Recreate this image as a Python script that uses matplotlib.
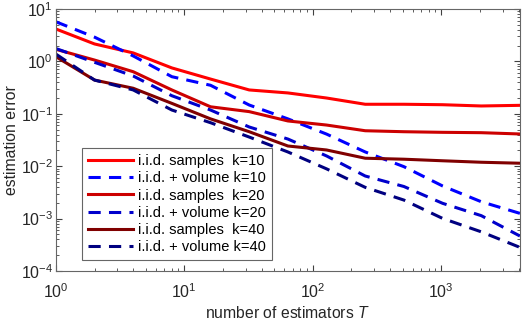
import matplotlib
matplotlib.use('Agg')
import matplotlib.pyplot as plt
import numpy as np

plt.rcParams['font.family'] = ['Liberation Sans', 'DejaVu Sans']
plt.rcParams['mathtext.fontset'] = 'custom'
plt.rcParams['mathtext.rm'] = 'Liberation Sans'
plt.rcParams['mathtext.it'] = 'Liberation Sans:italic'
plt.rcParams['mathtext.default'] = 'regular'

# number of estimators T = 2^0 ... 2^12
T = [1, 2, 4, 8, 16, 32, 64, 128, 256, 512, 1024, 2048, 4096]

iid_k10 = [4.15, 2.15, 1.45, 0.75, 0.46, 0.285, 0.25, 0.20, 0.152, 0.152, 0.149, 0.141, 0.145]
vol_k10 = [5.7, 2.9, 1.27, 0.51, 0.35, 0.147, 0.080, 0.041, 0.0187, 0.0098, 0.0042, 0.0021, 0.00126]
iid_k20 = [1.70, 1.06, 0.635, 0.285, 0.136, 0.110, 0.073, 0.061, 0.0475, 0.0455, 0.0443, 0.0436, 0.0412]
vol_k20 = [1.76, 0.96, 0.526, 0.221, 0.118, 0.056, 0.033, 0.0157, 0.0065, 0.0041, 0.00196, 0.00114, 0.000466]
iid_k40 = [1.23, 0.44, 0.307, 0.158, 0.080, 0.0455, 0.0243, 0.0204, 0.0142, 0.0136, 0.0127, 0.0119, 0.0114]
vol_k40 = [1.38, 0.44, 0.285, 0.118, 0.0676, 0.036, 0.0187, 0.0089, 0.00395, 0.00226, 0.00101, 0.00056, 0.000283]

series = [
    (iid_k10, 'i.i.d. samples  k=10', (1, 0, 0), '-'),
    (vol_k10, 'i.i.d. + volume k=10', (0, 0, 1), '--'),
    (iid_k20, 'i.i.d. samples  k=20', (0.8, 0, 0), '-'),
    (vol_k20, 'i.i.d. + volume k=20', (0, 0, 0.8), '--'),
    (iid_k40, 'i.i.d. samples  k=40', (0.5, 0, 0), '-'),
    (vol_k40, 'i.i.d. + volume k=40', (0, 0, 0.5), '--'),
]

fig = plt.figure(figsize=(5.22, 3.2), dpi=100)
ax = fig.add_axes([0.107, 0.153, 0.889, 0.819])

for vals, lab, col, ls in series:
    line, = ax.plot(T, vals, color=col, lw=2.2, label=lab)
    if ls == '--':
        line.set_dashes((4, 2.7))

ax.set_xscale('log')
ax.set_yscale('log')
ax.set_xlim(1, 4096)
ax.set_ylim(1e-4, 10)

ax.tick_params(which='both', direction='in', top=True, right=True,
               colors=(0.25, 0.25, 0.25), labelcolor=(0.15, 0.15, 0.15), labelsize=11.5)
ax.tick_params(which='major', length=4)
ax.tick_params(which='minor', length=2)
ax.tick_params(axis='x', pad=8)
ax.tick_params(axis='y', pad=2)
for s in ax.spines.values():
    s.set_color((0.4, 0.4, 0.4))

ax.set_xlabel('number of estimators $\\mathit{T}$', fontsize=11.3, color=(0.15, 0.15, 0.15), labelpad=3)
ax.set_ylabel('estimation error', fontsize=11.3, color=(0.15, 0.15, 0.15), labelpad=1)

leg = ax.legend(loc='lower left', bbox_to_anchor=(0.056, 0.042), borderaxespad=0,
                fontsize=10.5, handlelength=3.1, fancybox=False, framealpha=1,
                edgecolor=(0.4, 0.4, 0.4), labelspacing=0.22, borderpad=0.4,
                handletextpad=0.35)
leg.get_frame().set_linewidth(0.8)

fig.savefig('out.png', dpi=100)
